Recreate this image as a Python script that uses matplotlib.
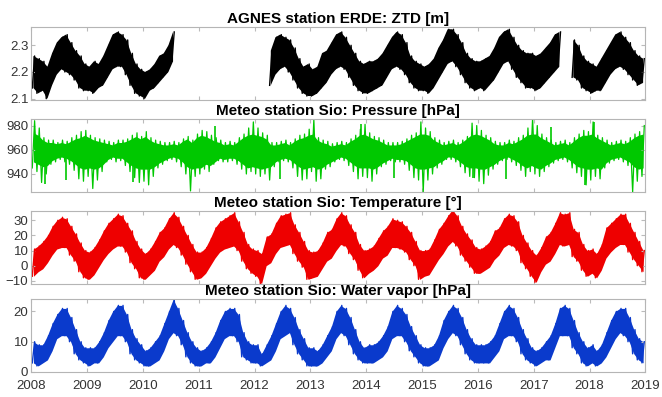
import numpy as np
import matplotlib
matplotlib.use('Agg')
import matplotlib.pyplot as plt

plt.rcParams['font.family'] = ['Liberation Sans', 'DejaVu Sans']

nan = np.nan
start_year = 2008

# monthly low / high envelopes, Jan 2008 .. Dec 2018
ztd_lo = [2.14, 2.12, 2.13, 2.10, 2.15, 2.19, 2.21, 2.20, 2.19, 2.17, 2.14, 2.13,
          2.13, 2.12, 2.14, 2.15, 2.18, 2.21, 2.22, 2.22, 2.19, 2.15, 2.12, 2.11,
          2.10, 2.13, 2.14, 2.16, 2.18, 2.20, 2.24, nan, nan, nan, nan, nan,
          nan, nan, nan, nan, nan, nan, nan, nan, nan, nan, nan, nan,
          nan, nan, nan, 2.15, 2.19, 2.21, 2.22, 2.20, 2.17, 2.14, 2.12, 2.11,
          2.11, 2.12, 2.14, 2.16, 2.19, 2.21, 2.22, 2.21, 2.18, 2.15, 2.13, 2.12,
          2.12, 2.13, 2.14, 2.15, 2.18, 2.21, 2.22, 2.21, 2.19, 2.16, 2.14, 2.13,
          2.13, 2.12, 2.14, 2.17, 2.20, 2.23, 2.24, 2.22, 2.19, 2.16, 2.14, 2.13,
          2.14, 2.13, 2.15, 2.17, 2.20, 2.23, 2.24, 2.21, 2.18, 2.16, 2.14, 2.14,
          2.13, 2.14, 2.16, 2.18, 2.20, 2.22, nan, nan, 2.18, 2.17, 2.14, 2.13,
          2.12, 2.13, 2.13, 2.16, 2.19, 2.21, 2.22, 2.21, 2.19, 2.17, 2.15, 2.16]
ztd_hi = [2.26, 2.25, 2.24, 2.22, 2.27, 2.31, 2.33, 2.34, 2.31, 2.28, 2.26, 2.23,
          2.22, 2.24, 2.23, 2.26, 2.30, 2.34, 2.35, 2.34, 2.32, 2.27, 2.23, 2.21,
          2.20, 2.21, 2.23, 2.26, 2.27, 2.30, 2.35, nan, nan, nan, nan, nan,
          nan, nan, nan, nan, nan, nan, nan, nan, nan, nan, nan, nan,
          nan, nan, nan, 2.28, 2.33, 2.34, 2.33, 2.32, 2.29, 2.25, 2.22, 2.23,
          2.21, 2.22, 2.27, 2.28, 2.31, 2.34, 2.35, 2.33, 2.30, 2.27, 2.24, 2.23,
          2.24, 2.24, 2.25, 2.27, 2.30, 2.33, 2.35, 2.34, 2.31, 2.26, 2.24, 2.23,
          2.22, 2.23, 2.25, 2.29, 2.32, 2.36, 2.36, 2.34, 2.31, 2.27, 2.25, 2.24,
          2.24, 2.25, 2.26, 2.29, 2.33, 2.35, 2.36, 2.33, 2.30, 2.28, 2.27, 2.27,
          2.26, 2.27, 2.29, 2.31, 2.34, 2.35, nan, nan, 2.32, 2.30, 2.26, 2.24,
          2.23, 2.22, 2.25, 2.28, 2.31, 2.34, 2.35, 2.33, 2.31, 2.28, 2.26, 2.25]

# pressure: dense core band per month ...
pres_lo = [950, 948, 946, 947, 951, 953, 954, 953, 951, 948, 945, 944,
           945, 944, 945, 948, 952, 954, 953, 953, 950, 947, 945, 944,
           944, 944, 946, 949, 951, 953, 954, 953, 950, 946, 944, 945,
           945, 948, 947, 950, 953, 952, 953, 953, 951, 948, 945, 946,
           945, 944, 945, 946, 950, 952, 953, 952, 949, 946, 944, 945,
           946, 944, 945, 948, 950, 952, 954, 953, 950, 947, 945, 945,
           945, 944, 946, 949, 951, 953, 952, 952, 951, 948, 945, 944,
           944, 945, 946, 949, 951, 954, 954, 952, 949, 946, 945, 945,
           944, 944, 946, 948, 951, 953, 954, 952, 950, 947, 945, 947,
           945, 944, 947, 949, 952, 953, 954, 952, 949, 946, 945, 944,
           944, 945, 944, 949, 952, 953, 954, 952, 950, 946, 944, 945]
pres_hi = [974, 972, 968, 966, 966, 965, 966, 965, 967, 969, 970, 972,
           970, 968, 967, 966, 965, 964, 966, 966, 967, 969, 971, 969,
           971, 968, 966, 965, 964, 964, 965, 964, 967, 969, 966, 970,
           972, 971, 969, 967, 966, 964, 965, 964, 967, 970, 972, 973,
           972, 971, 969, 964, 964, 965, 966, 964, 967, 969, 970, 972,
           973, 968, 966, 965, 963, 964, 965, 964, 967, 969, 972, 973,
           971, 969, 968, 966, 964, 964, 964, 965, 967, 969, 971, 973,
           973, 972, 968, 966, 964, 965, 966, 964, 966, 969, 972, 973,
           972, 970, 968, 965, 964, 964, 966, 965, 967, 969, 972, 973,
           973, 970, 968, 966, 964, 965, 966, 964, 967, 970, 972, 972,
           973, 970, 968, 966, 964, 965, 966, 965, 967, 970, 972, 973]
# ... monthly extremes of the spiky trace ...
pres_min = [945, 942, 933, 940, 948, 950, 952, 950, 948, 943, 936, 934,
            938, 928, 935, 942, 950, 952, 950, 951, 947, 942, 937, 933,
            934, 931, 938, 945, 948, 951, 952, 950, 946, 940, 926, 938,
            940, 944, 942, 948, 951, 950, 950, 951, 948, 944, 940, 942,
            940, 938, 940, 935, 946, 950, 951, 950, 945, 938, 935, 936,
            942, 934, 936, 944, 946, 950, 952, 951, 947, 942, 936, 938,
            937, 934, 940, 946, 948, 951, 950, 950, 948, 943, 937, 935,
            925, 935, 940, 945, 948, 952, 952, 950, 946, 941, 938, 937,
            934, 932, 939, 944, 948, 951, 952, 950, 947, 943, 938, 942,
            940, 938, 942, 946, 949, 951, 952, 950, 945, 941, 938, 931,
            935, 938, 936, 945, 949, 951, 952, 950, 947, 925, 934, 938]
pres_max = [984, 978, 970, 968, 968, 966, 968, 967, 970, 972, 975, 976,
            972, 970, 969, 968, 967, 966, 968, 968, 969, 972, 974, 971,
            975, 970, 968, 967, 966, 966, 967, 966, 969, 971, 968, 973,
            976, 975, 972, 970, 968, 966, 967, 966, 970, 973, 978, 983,
            978, 974, 972, 966, 966, 967, 968, 966, 969, 972, 973, 977,
            985, 970, 968, 967, 965, 966, 967, 966, 969, 972, 977, 981,
            974, 971, 970, 968, 966, 966, 966, 967, 969, 972, 974, 983,
            978, 975, 970, 968, 966, 967, 968, 966, 968, 971, 982, 980,
            976, 972, 970, 967, 966, 966, 968, 967, 970, 972, 978, 986,
            980, 973, 970, 968, 966, 967, 968, 966, 970, 973, 976, 975,
            983, 972, 970, 968, 966, 967, 968, 967, 970, 973, 975, 980]
# ... and a few isolated spikes between months
pres_spike_t = [2008.24, 2008.62, 2009.82, 2011.3, 2012.45, 2013.9, 2014.5,
                2015.92, 2016.5, 2017.3, 2017.92, 2018.07]
pres_spike_v = [932, 935, 933, 980, 936, 981, 937, 937, 936, 979, 931, 983]

temp_lo = [-7, -4, -2, 2, 7, 11, 12, 12, 7, 3, -4, -8,
           -9, -6, -1, 4, 8, 11, 13, 13, 9, 2, -2, -8,
           -9, -6, -3, 3, 6, 11, 14, 12, 7, 1, -4, -9,
           -8, -5, 0, 5, 9, 11, 12, 13, 10, 3, -2, -5,
           -7, -12, 0, 2, 8, 12, 13, 14, 8, 3, -1, -9,
           -8, -7, -2, 3, 5, 10, 14, 13, 8, 4, -3, -8,
           -5, -3, 0, 5, 7, 12, 12, 11, 9, 4, 0, -9,
           -7, -6, -1, 4, 8, 13, 16, 13, 7, 3, -1, -5,
           -5, -3, -1, 4, 7, 12, 14, 13, 10, 2, -2, -7,
           -11, -4, 1, 3, 8, 14, 13, 14, 6, 3, -3, -7,
           -5, -8, -3, 5, 9, 12, 14, 14, 9, 4, 0, -4]
temp_hi = [11, 13, 16, 20, 26, 30, 32, 31, 26, 21, 15, 10,
           9, 12, 17, 23, 28, 31, 34, 33, 28, 23, 16, 11,
           8, 11, 16, 22, 25, 31, 35, 32, 26, 20, 14, 9,
           9, 12, 18, 25, 29, 31, 33, 35, 29, 22, 14, 11,
           10, 8, 19, 21, 28, 33, 34, 35, 27, 22, 16, 10,
           9, 10, 15, 22, 24, 31, 35, 33, 27, 22, 14, 10,
           11, 13, 18, 23, 26, 31, 30, 29, 26, 22, 16, 10,
           10, 11, 17, 24, 28, 33, 37, 33, 26, 21, 17, 12,
           11, 13, 16, 23, 25, 31, 34, 33, 29, 20, 15, 10,
           7, 12, 19, 22, 28, 35, 34, 35, 24, 22, 14, 10,
           11, 8, 14, 25, 28, 31, 34, 34, 28, 22, 16, 10]

wv_lo = [3, 2, 3, 4, 7, 11, 12, 12, 10, 6, 4, 3,
         2, 3, 3, 5, 8, 10, 12, 12, 10, 6, 4, 3,
         2, 2, 3, 4, 7, 11, 13, 12, 9, 5, 3, 2,
         2, 3, 3, 5, 8, 11, 12, 12, 10, 5, 4, 3,
         3, 2, 3, 4, 7, 11, 12, 13, 9, 6, 4, 2,
         2, 2, 3, 5, 7, 11, 13, 12, 9, 6, 4, 3,
         3, 3, 4, 5, 7, 11, 12, 12, 10, 7, 5, 3,
         2, 2, 3, 4, 8, 11, 13, 12, 9, 6, 4, 3,
         3, 3, 3, 5, 7, 11, 12, 12, 10, 6, 4, 3,
         2, 3, 4, 4, 8, 12, 12, 12, 8, 6, 3, 2,
         3, 2, 3, 5, 8, 11, 13, 12, 10, 6, 4, 3]
wv_hi = [10, 9, 9, 12, 16, 19, 21, 21, 18, 14, 10, 8,
         8, 8, 10, 13, 17, 20, 22, 22, 19, 14, 11, 9,
         7, 8, 10, 12, 16, 20, 24, 21, 17, 13, 10, 8,
         7, 8, 10, 13, 17, 20, 21, 21, 19, 13, 10, 9,
         9, 6, 9, 12, 16, 20, 22, 21, 18, 14, 11, 8,
         8, 7, 9, 12, 15, 20, 22, 21, 18, 14, 10, 8,
         9, 9, 10, 12, 15, 20, 22, 21, 19, 15, 12, 9,
         8, 8, 9, 12, 17, 20, 22, 21, 18, 14, 11, 9,
         9, 9, 10, 12, 16, 20, 22, 21, 18, 14, 11, 8,
         7, 8, 10, 12, 16, 21, 22, 21, 17, 13, 10, 8,
         9, 7, 9, 13, 17, 20, 21, 21, 18, 14, 11, 10]

titles = ['AGNES station ERDE: ZTD [m]',
          'Meteo station Sio: Pressure [hPa]',
          'Meteo station Sio: Temperature [\u00b0]',
          'Meteo station Sio: Water vapor [hPa]']
colors = ['black', '#00c800', '#ee0000', '#0a3acc']
ylims = [(2.095, 2.367), (925, 985), (-12, 36), (0, 24)]
yticks = [[2.1, 2.2, 2.3], [940, 960, 980], [-10, 0, 10, 20, 30], [0, 10, 20]]
bands = [(ztd_lo, ztd_hi), (pres_lo, pres_hi), (temp_lo, temp_hi), (wv_lo, wv_hi)]
extremes = [(ztd_lo, ztd_hi), (pres_min, pres_max), (temp_lo, temp_hi), (wv_lo, wv_hi)]

fig = plt.figure(figsize=(6.62, 3.97), dpi=100)
left, width = 0.047, 0.928
bottoms = [0.748, 0.516, 0.285, 0.063]
height = 0.183

years = list(range(2008, 2020))

for k in range(4):
    ax = fig.add_axes([left, bottoms[k], width, height])
    lo = np.array(bands[k][0], dtype=float)
    hi = np.array(bands[k][1], dtype=float)
    n = len(lo)
    m = np.arange(n)
    xm = start_year + (m + 0.5) / 12
    ax.fill_between(xm, lo, hi, color=colors[k], lw=0)
    # jagged edges: zigzag between the monthly extremes
    x = np.empty(2 * n)
    y = np.empty(2 * n)
    x[0::2] = start_year + (m + 0.25) / 12
    x[1::2] = start_year + (m + 0.75) / 12
    y[0::2] = extremes[k][0]
    y[1::2] = extremes[k][1]
    ax.plot(x, y, color=colors[k], lw=1.0 if k != 1 else 0.9)
    if k == 1:
        ax.vlines(pres_spike_t, 958, pres_spike_v, color=colors[k], lw=1.2)
    ax.set_xlim(2008, 2019)
    ax.set_ylim(*ylims[k])
    ax.set_yticks(yticks[k])
    ax.set_xticks(years)
    if k < 3:
        ax.set_xticklabels([])
        ax.tick_params(axis='x', length=0)
    ax.tick_params(direction='in', top=True, right=True, length=3,
                   labelsize=9.5, colors='#bbbbbb', labelcolor='#333333', pad=2)
    ax.tick_params(axis='x', pad=6)
    for s in ax.spines.values():
        s.set_color('#b5b5b5')
        s.set_linewidth(0.8)
    ax.set_title(titles[k], fontsize=11, fontweight='bold', pad=3)

fig.savefig('out.png', dpi=100)
